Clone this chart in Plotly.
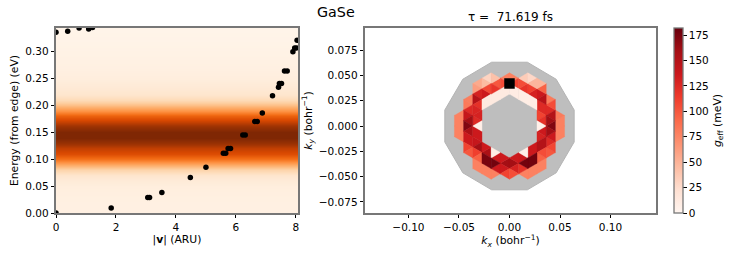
import plotly.graph_objects as go

W, H = 747, 262
FONT = "DejaVu Sans"

# left panel
energy = [round(i * 0.01, 2) for i in range(35)]
intensity = [.04, .04, .04, .045, .05, .06, .08, .13, .22, .38, .6, .73, .81, .92, 1.0, 1.0, .92, .8, .66, .48,
             .31, .19, .13, .1, .08, .06, .05, .04, .035, .03, .025, .02, .015, .012, .01]
v_ext = [0, 8.07]
v_pts = [0.0, 0.0, 0.39, 0.77, 1.09, 1.22, 1.84, 3.06, 3.12, 3.53, 4.48, 5.0, 5.58, 5.66, 5.74, 5.82, 6.23, 6.31,
         6.63, 6.71, 6.88, 7.22, 7.42, 7.45, 7.52, 7.62, 7.71, 7.9, 7.96, 8.02, 8.04]
e_pts = [0.0, .336, .338, .344, .342, .345, .0095, .029, .029, .038, .066, .085, .111, .111, .12, .12, .145, .145,
         .170, .170, .186, .218, .234, .241, .241, .264, .264, .300, .307, .307, .321]

# right panel
bz_kx = [-.0177, .0177, .0462, .0640, .0640, .0462, .0177, -.0177, -.0462, -.0640, -.0640, -.0462]
bz_ky = [.0630, .0630, .0462, .0158, -.0158, -.0462, -.0630, -.0630, -.0462, -.0158, .0158, .0462]
marker_k = [0.0, 0.042]
dkx, dky = 0.00908, 0.00525
_ = None
# strip index -> (first row index, g_eff in meV for successive triangles)
g_strips = {
    -6: (-2, [78, 78, 78, 78, 78]),
    -5: (-5, [80, 82, 125, 140, 159, 172, 155, 136, 136, 110, 100]),
    -4: (-8, [55, 62, 130, 150, 120, 128, 130, 125, 6, 136, 136, 140, 159, 112, 95, 78, 78]),
    -3: (-9, [30, 45, 108, 136, 12, 12, _, _, _, _, _, _, _, 136, 155, 175, 175, 78, 78]),
    -2: (-9, [42, 100, 118, 12, 12, _, _, _, _, _, _, _, _, _, 8, 136, 178, 136, 78]),
    -1: (-9, [78, 105, 12, 12, _, _, _, _, _, _, _, _, _, _, _, 136, 159, 136, 110]),
    0: (-9, [78, 110, 10, 10, _, _, _, _, _, _, _, _, _, _, _, 136, 159, 130, 105]),
    1: (-9, [35, 105, 118, 8, 8, _, _, _, _, _, _, _, _, _, 6, 136, 178, 120, 78]),
    2: (-9, [28, 48, 112, 130, 8, 8, _, _, _, _, _, _, _, 136, 136, 178, 178, 78, 78]),
    3: (-8, [48, 95, 136, 148, 125, 125, 110, 120, 5, 136, 130, 150, 150, 105, 95, 78, 78]),
    4: (-5, [82, 105, 125, 150, 160, 172, 160, 136, 125, 108, 100]),
    5: (-2, [82, 78, 78, 78, 78]),
}
cb_ticks = [0, 25, 50, 75, 100, 125, 150, 175]
g_max = 182

REDS = ["#fff5f0", "#fee0d2", "#fcbba1", "#fc9272", "#fb6a4a", "#ef3b2c", "#cb181d", "#a50f15", "#67000d"]
ORANGES = ["#fff5eb", "#fee6ce", "#fdd0a2", "#fdae6b", "#fd8d3c", "#f16913", "#d94801", "#a63603", "#7f2704"]


def scale(cols):
    return [[i / (len(cols) - 1), c] for i, c in enumerate(cols)]


def red(v):
    t = min(max(v / g_max, 0), 1) * (len(REDS) - 1)
    i = min(int(t), len(REDS) - 2)
    a = [int(REDS[i][j:j + 2], 16) for j in (1, 3, 5)]
    b = [int(REDS[i + 1][j:j + 2], 16) for j in (1, 3, 5)]
    f = t - i
    return "rgb(%d,%d,%d)" % tuple(round(p + (q - p) * f) for p, q in zip(a, b))


fig = go.Figure()
fig.add_trace(go.Heatmap(x=v_ext, y=energy, z=[[z, z] for z in intensity], colorscale=scale(ORANGES),
                         zmin=0, zmax=1, zsmooth="best", showscale=False, xaxis="x", yaxis="y"))
fig.add_trace(go.Scatter(x=v_pts, y=e_pts, mode="markers", marker=dict(color="black", size=5.5),
                         xaxis="x", yaxis="y", showlegend=False))

fig.add_trace(go.Scatter(x=bz_kx + bz_kx[:1], y=bz_ky + bz_ky[:1], mode="lines", fill="toself",
                         fillcolor="#bebebe", line=dict(color="#b4b4b4", width=1),
                         xaxis="x2", yaxis="y2", showlegend=False))
groups = {}
for i, (k0, vals) in g_strips.items():
    for n, g in enumerate(vals):
        if g is None:
            continue
        k = k0 + n
        apex, base = (i, i + 1) if (i + k) % 2 == 0 else (i + 1, i)
        xs, ys = groups.setdefault(g, ([], []))
        xs += [apex * dkx, base * dkx, base * dkx, apex * dkx, None]
        ys += [-k * dky, -(k - 1) * dky, -(k + 1) * dky, -k * dky, None]
for g, (xs, ys) in groups.items():
    fig.add_trace(go.Scatter(x=xs, y=ys, mode="lines", fill="toself", fillcolor=red(g),
                             line=dict(color=red(g), width=0.4), xaxis="x2", yaxis="y2", showlegend=False))
fig.add_trace(go.Scatter(x=marker_k[:1], y=marker_k[1:], mode="markers",
                         marker=dict(symbol="square", color="black", size=10.5),
                         xaxis="x2", yaxis="y2", showlegend=False))
fig.add_trace(go.Scatter(x=[None], y=[None], mode="markers", xaxis="x2", yaxis="y2", showlegend=False,
                         marker=dict(color=[0], cmin=0, cmax=g_max, colorscale=scale(REDS), showscale=True,
                                     colorbar=dict(x=674 / W, xanchor="left", xpad=0, thickness=9, thicknessmode="pixels",
                                                   len=185, lenmode="pixels", y=49 / H, yanchor="bottom", ypad=0,
                                                   outlinecolor="#777777", outlinewidth=1.3,
                                                   tickvals=cb_ticks, ticks="outside", ticklen=3.5, tickwidth=0.8,
                                                   tickcolor="black", tickfont=dict(size=10.5, color="black", family=FONT),
                                                   title=dict(text="<i>g</i><sub>eff</sub> (meV)", side="right",
                                                              font=dict(size=10.8, color="black", family=FONT))))))

axis = dict(showgrid=False, zeroline=False, showline=True, mirror=True, linecolor="#777777", linewidth=1.5,
            automargin=False, ticks="outside", ticklen=3.5, tickwidth=0.8, tickcolor="black",
            tickfont=dict(size=10.5, color="black", family=FONT))
tfont = dict(size=10.8, color="black", family=FONT)
fig.update_layout(
    width=W, height=H, autosize=False, margin=dict(l=0, r=0, t=0, b=0), paper_bgcolor="white", plot_bgcolor="white",
    font=dict(family=FONT, color="black"), showlegend=False,
    xaxis=dict(axis, domain=[56 / W, 298 / W], range=[0, 8.07], tickvals=[0, 2, 4, 6, 8],
               title=dict(text="|<b>v</b>| (ARU)", font=tfont, standoff=4)),
    yaxis=dict(axis, domain=[49 / H, 234 / H], range=[0, 0.344], tickvals=[0, .05, .1, .15, .2, .25, .3],
               ticktext=["0.00", "0.05", "0.10", "0.15", "0.20", "0.25", "0.30"],
               title=dict(text="Energy (from edge) (eV)", font=tfont, standoff=4)),
    xaxis2=dict(axis, domain=[365 / W, 656 / W], range=[-.143, .145], anchor="y2", tickvals=[-.1, -.05, 0, .05, .1],
                ticktext=["\u22120.10", "\u22120.05", "0.00", "0.05", "0.10"],
                title=dict(text="<i>k<sub>x</sub></i> (bohr<sup>\u22121</sup>)", font=tfont, standoff=4)),
    yaxis2=dict(axis, domain=[49 / H, 234 / H], range=[-.0859, .0968], anchor="x2",
                tickvals=[-.075, -.05, -.025, 0, .025, .05, .075],
                ticktext=["\u22120.075", "\u22120.050", "\u22120.025", "0.000", "0.025", "0.050", "0.075"],
                title=dict(text="<i>k<sub>y</sub></i> (bohr<sup>\u22121</sup>)", font=tfont, standoff=4)),
    annotations=[
        dict(text="GaSe", x=336 / W, y=1 - 12 / H, xref="paper", yref="paper", xanchor="center", yanchor="middle", showarrow=False, font=dict(size=14.3, family=FONT)),
        dict(text="\u03c4 =  71.619 fs", x=510 / W, y=1 - 17 / H, xref="paper", yref="paper", xanchor="center", yanchor="middle", showarrow=False, font=dict(size=12, family=FONT)),
    ],
)
fig.write_html("out.html", config=dict(displayModeBar=False),
               post_script="document.body.style.margin='0';document.documentElement.style.overflow='hidden';")
